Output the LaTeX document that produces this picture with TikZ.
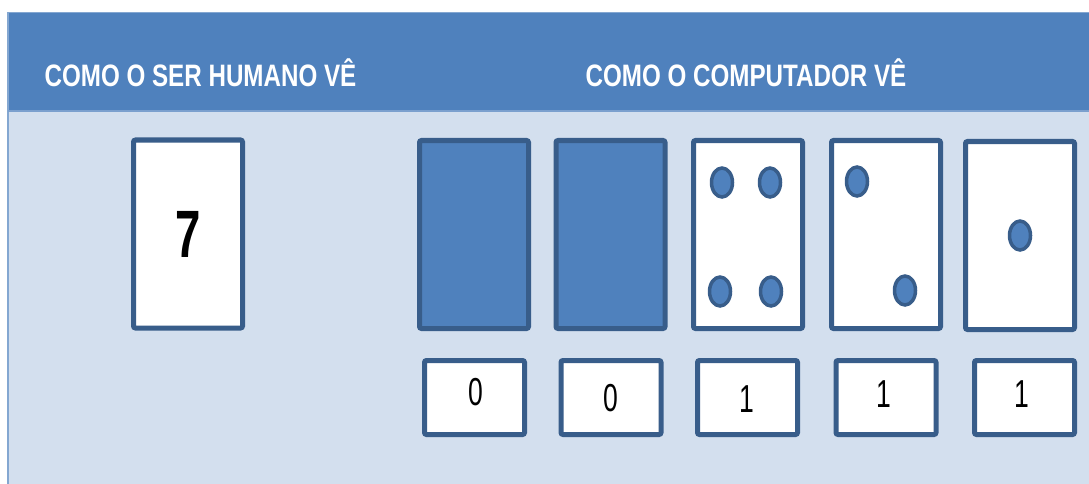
\documentclass[tikz,border=0pt]{standalone}
\usepackage{fontspec}
\setmainfont{Liberation Sans}
\newfontfamily\headfont[FakeStretch=0.78]{Liberation Sans}
\newfontfamily\digitfont[FakeStretch=0.68]{Liberation Sans}
\usepackage{xcolor}
\definecolor{hdrblue}{RGB}{79,129,189}
\definecolor{bodyblue}{RGB}{211,223,238}
\definecolor{edgeblue}{RGB}{56,93,138}
\usetikzlibrary{positioning, calc}

\begin{document}
\begin{tikzpicture}[x=1pt, y=-1pt,
  card/.style={draw=edgeblue, line width=5pt, fill=white, rounded corners=2pt,
               minimum width=109pt, minimum height=188pt, inner sep=0pt},
  offcard/.style={card, fill=hdrblue},
  bitbox/.style={draw=edgeblue, line width=5pt, fill=white, rounded corners=2pt,
                 minimum width=100pt, minimum height=74pt, inner sep=0pt},
  bitlabel/.style={font=\digitfont\fontsize{39}{39}\selectfont, inner sep=0pt},
  dot/.style={draw=edgeblue, line width=3.5pt, fill=hdrblue}]

\useasboundingbox (0,0) rectangle (1089,484);

% --- Background and header band ---
\fill[bodyblue] (8,112) rectangle (1089,484);
\fill[hdrblue] (8,12) rectangle (1089,112);
\draw[hdrblue!70!white, line width=1.2pt] (8,484) -- (8,12.5) -- (1089,12.5);
\draw[hdrblue!75!white, line width=1.5pt] (8,111) -- (1089,111);

\node[font=\headfont\bfseries\fontsize{31}{31}\selectfont, white] (humanhead) at (200.5,73) {COMO O SER HUMANO VÊ};
\node[font=\headfont\bfseries\fontsize{31}{31}\selectfont, white] (comphead) at (746,73) {COMO O COMPUTADOR VÊ};

% --- Human view ---
\node[card, font=\digitfont\bfseries\fontsize{67}{67}\selectfont] (human) at (188,234) {7};

% --- Computer view: cards ---
\node[offcard] (card16) at (474,234.5) {};
\node[offcard] (card8) at (610.5,234.5) {};
\node[card] (card4) at (748,234.5) {};
\node[card] (card2) at (886,234.5) {};
\node[card] (card1) at (1020,235.5) {};

% dots
\foreach \dx/\dy in {-26/-52, 22/-52, -28/57, 23/57}
  \draw[dot] ($(card4.center)+(\dx,\dy)$) ellipse (10.5pt and 14.5pt);
\draw[dot] ($(card2.center)+(-29,-53)$) ellipse (10.5pt and 14.5pt);
\draw[dot] ($(card2.center)+(19,56)$) ellipse (10.5pt and 14.5pt);
\draw[dot] (card1.center) ellipse (10.5pt and 14.5pt);

% --- Computer view: bits ---
\node[bitbox] (bit16) at (474.5,397.5) {};
\node[bitbox] (bit8) at (611,397.5) {};
\node[bitbox] (bit4) at (747.5,397.5) {};
\node[bitbox] (bit2) at (886,397.5) {};
\node[bitbox] (bit1) at (1024.5,397.5) {};

\node[bitlabel] at ($(bit16.center)+(1,-5)$) {0};
\node[bitlabel] at ($(bit8.center)+(0,1)$) {0};
\node[bitlabel] at ($(bit4.center)+(-1,2)$) {1};
\node[bitlabel] at ($(bit2.center)+(-2,-3)$) {1};
\node[bitlabel] at ($(bit1.center)+(-3,-3)$) {1};

\end{tikzpicture}
\end{document}
